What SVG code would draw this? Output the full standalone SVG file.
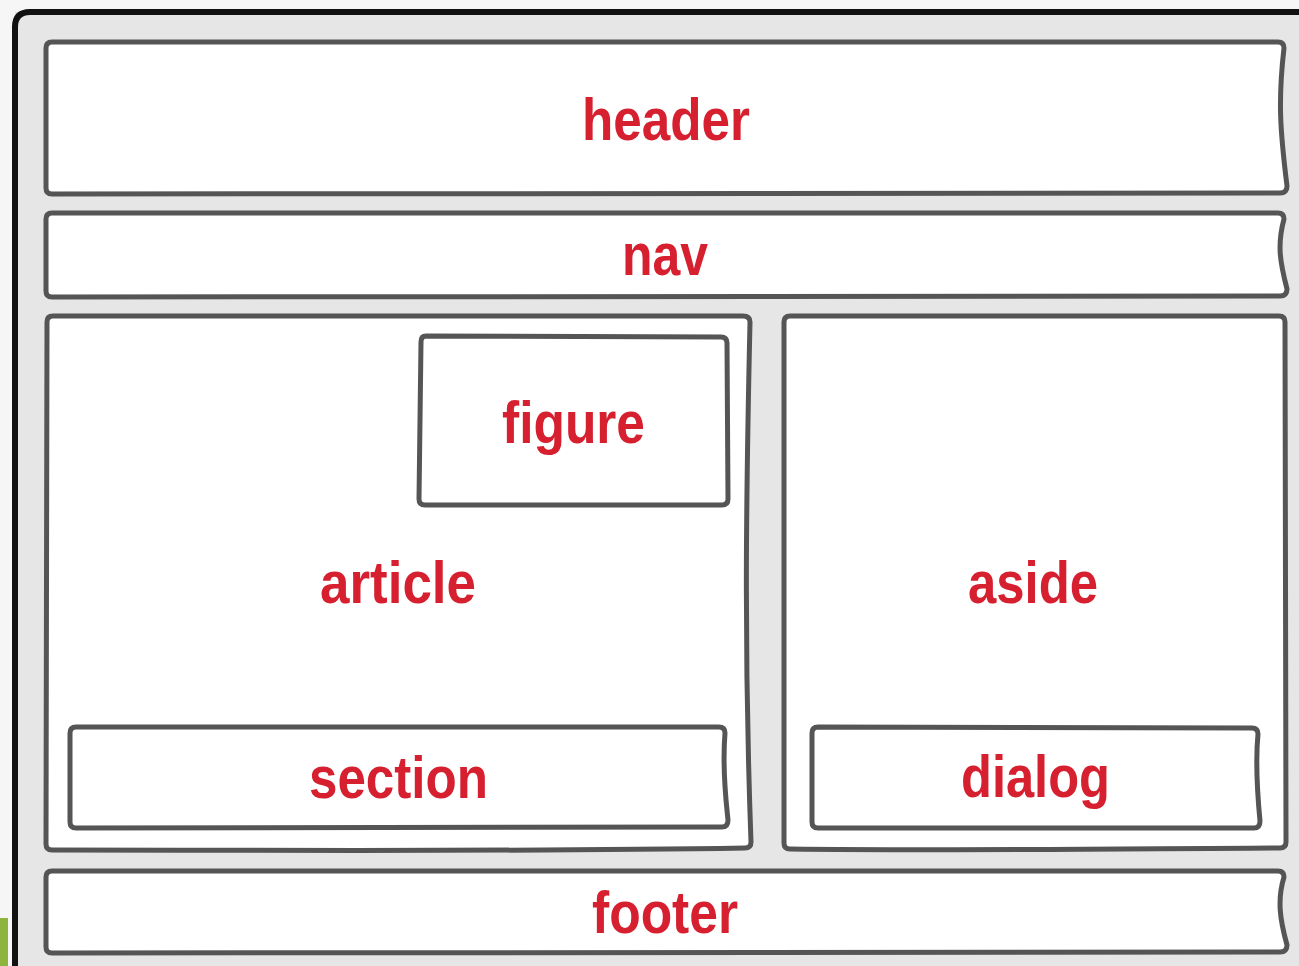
<svg xmlns="http://www.w3.org/2000/svg" width="1299" height="966" viewBox="0 0 1299 966">
<style>
.box{fill:#fff;stroke:#555;stroke-width:5;stroke-linejoin:round}
.lbl{fill:#d6202f;font-family:"Liberation Sans Narrow","Liberation Sans",Arial,sans-serif;font-weight:bold;font-size:60px}
</style>
<rect x="0" y="0" width="1299" height="966" fill="#f6f6f6"/>
<rect x="0" y="918" width="8" height="48" fill="#8db43c"/>
<rect x="15" y="12" width="1284" height="954" fill="#e6e6e6"/>
<path d="M15 966 L15 27 Q15 12 30 12 L1299 12" fill="none" stroke="#111" stroke-width="6"/>
<g id="header">
<path class="box" d="M52 42 L1278 42 Q1284 42 1284 48 C1278 100 1280 130 1287 186 Q1287 193 1280 193 L52 194 Q46 194 46 188 L46 48 Q46 42 52 42 Z"/>
<text class="lbl" x="582" y="140" textLength="168" lengthAdjust="spacingAndGlyphs">header</text>
</g>
<g id="nav">
<path class="box" d="M52 213 L1278 213 Q1284 213 1284 219 C1277 245 1280 262 1287 289 Q1287 296 1280 296 L52 297 Q46 297 46 291 L46 219 Q46 213 52 213 Z"/>
<text class="lbl" x="622" y="275" textLength="86" lengthAdjust="spacingAndGlyphs">nav</text>
</g>
<g id="article">
<path class="box" d="M53 316 L743 316 Q750 316 750 322 C746 500 744 650 751 842 Q751 848 745 848 C500 852 300 850 52 850 Q46 850 46 844 L47 322 Q47 316 53 316 Z"/>
<text class="lbl" x="320" y="603" textLength="156" lengthAdjust="spacingAndGlyphs">article</text>
</g>
<g id="figure">
<path class="box" d="M426 336 L721 337 Q727 337 727 343 L728 499 Q728 505 722 505 L425 505 Q419 505 419 499 L421 342 Q421 336 426 336 Z"/>
<text class="lbl" x="502" y="443" textLength="143" lengthAdjust="spacingAndGlyphs">figure</text>
</g>
<g id="section">
<path class="box" d="M76 727 L719 727 Q725 727 725 733 C722 770 726 800 728 820 Q728 827 722 827 L76 828 Q70 828 70 822 L70 733 Q70 727 76 727 Z"/>
<text class="lbl" x="309" y="798" textLength="179" lengthAdjust="spacingAndGlyphs">section</text>
</g>
<g id="aside">
<path class="box" d="M790 316 L1279 316 Q1285 316 1285 322 L1286 842 Q1286 848 1280 848 C1100 849 950 851 790 849 Q784 849 784 843 L784 322 Q784 316 790 316 Z"/>
<text class="lbl" x="968" y="603" textLength="130" lengthAdjust="spacingAndGlyphs">aside</text>
</g>
<g id="dialog">
<path class="box" d="M818 727 L1252 728 Q1258 728 1258 734 C1255 765 1258 800 1260 821 Q1260 828 1254 828 L818 828 Q812 828 812 822 L812 733 Q812 727 818 727 Z"/>
<text class="lbl" x="961" y="797" textLength="149" lengthAdjust="spacingAndGlyphs">dialog</text>
</g>
<g id="footer">
<path class="box" d="M52 871 L1278 871 Q1284 871 1284 877 C1277 900 1280 920 1287 945 Q1287 952 1280 952 L52 953 Q46 953 46 947 L46 877 Q46 871 52 871 Z"/>
<text class="lbl" x="592" y="933" textLength="146" lengthAdjust="spacingAndGlyphs">footer</text>
</g>
<g id="connectors"></g>
</svg>
